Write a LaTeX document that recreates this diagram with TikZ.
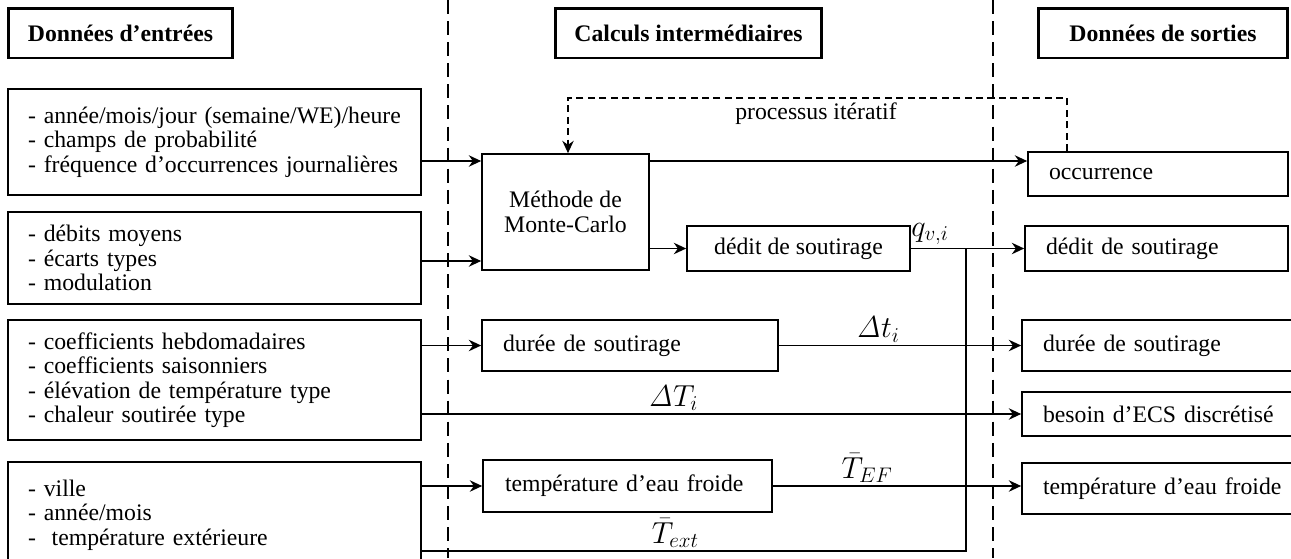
\documentclass[tikz,border=0pt]{standalone}
\usepackage[no-math]{fontspec}
\setmainfont{Liberation Serif}
\usetikzlibrary{positioning, arrows.meta, calc}

\tikzset{
    headbox/.style={draw, line width=1.7pt, minimum height=1cm, font=\fontsize{13.5}{14}\selectfont\bfseries},
    inbox/.style={draw, line width=1pt, align=left, inner xsep=0.4cm, text width=7.46cm, font=\fontsize{13.5}{13.9}\selectfont},
    midbox/.style={draw, line width=1pt, font=\fontsize{13.5}{13.9}\selectfont},
    outbox/.style={draw, line width=1pt, align=left, inner xsep=0.42cm, font=\fontsize{13.5}{13.9}\selectfont},
    lbl/.style={font=\fontsize{17}{20}\selectfont, inner sep=1.5pt},
    wire/.style={line width=0.9pt},
    arr/.style={wire, -{Stealth[length=7pt, width=6.5pt]}},
    sepline/.style={line width=0.8pt, dash pattern=on 8pt off 4pt},
    fbk/.style={line width=0.9pt, dash pattern=on 4pt off 2.5pt, -{Stealth[length=7pt, width=6.5pt]}}
}

\begin{document}
\begin{tikzpicture}[x=0.02cm, y=-0.02cm]
    \useasboundingbox (0,0) rectangle (1291,558);
    \clip (0,0) rectangle (1291,558);

    % Column separators
    \draw[sepline] (448,0) -- (448,558);
    \draw[sepline] (993,0) -- (993,558);

    % Column titles
    \node[headbox, minimum width=4.5cm] (hin) at (120.5,33) {Données d’entrées};
    \node[headbox, minimum width=5.34cm] (hcalc) at (688.5,33) {Calculs intermédiaires};
    \node[headbox, minimum width=5cm] (hout) at (1163,33) {Données de sorties};

    % Input data
    \node[inbox, minimum height=2.12cm] (in1) at (214.5,142)
        {- année/mois/jour (semaine/WE)/heure\\- champs de probabilité\\- fréquence d’occurrences journalières};
    \node[inbox, minimum height=1.84cm] (in2) at (214.5,258)
        {- débits moyens\\- écarts types\\- modulation};
    \node[inbox, minimum height=2.4cm] (in3) at (214.5,380)
        {- coefficients hebdomadaires\\- coefficients saisonniers\\- élévation de température type\\- chaleur soutirée type};
    \node[inbox, minimum height=2.12cm] (in4) at (214.5,515)
        {- ville\\- année/mois\\-\ \ température extérieure};

    % Intermediate calculations
    \node[midbox, align=center, minimum width=3.34cm, minimum height=2.32cm] (mc) at (565.5,212) {Méthode de\\Monte-Carlo};
    \node[midbox, minimum width=4.46cm, minimum height=0.9cm] (deb) at (798.5,248.5) {dédit de soutirage};
    \node[midbox, align=left, inner xsep=0.42cm, text width=5.08cm, minimum height=1.02cm] (dur) at (630,345.5) {durée de soutirage};
    \node[midbox, align=left, inner xsep=0.44cm, text width=4.9cm, minimum height=1.04cm] (tef) at (627.5,486) {température d’eau froide};

    % Outputs
    \node[outbox, text width=4.36cm, minimum height=0.88cm] (occ) at (1158,174) {occurrence};
    \node[outbox, text width=4.42cm, minimum height=0.9cm] (out2) at (1156.5,248.5) {dédit de soutirage};
    \node[outbox, text width=4.9cm, minimum height=1.02cm] (out3) at (1165.5,345.5) {durée de soutirage};
    \node[outbox, text width=4.9cm, minimum height=0.88cm] (out4) at (1165.5,414) {besoin d’ECS discrétisé};
    \node[outbox, text width=4.9cm, minimum height=1.02cm] (out5) at (1165.5,488.5) {température d’eau froide};

    % Iterative loop
    \draw[fbk] (occ.north -| 1067,0) -- (1067,98) -| (mc.north -| 568,0);
    \node[font=\fontsize{13.5}{13.9}\selectfont] (fbl) at (816,114) {processus itératif};

    % Connections
    \draw[arr] (in1.east |- 0,161) -- (mc.west |- 0,161);
    \draw[arr] (in2.east |- 0,261) -- (mc.west |- 0,261);
    \draw[arr] (mc.east |- 0,161) -- (occ.west |- 0,161);
    \draw[arr] (mc.east |- deb.west) -- (deb.west);
    \draw[arr] (deb.east) -- (out2.west) node[lbl, pos=0.17, above] {$q_{v,i}$};
    \coordinate (qj) at (966,248.5);
    \draw[wire] (in4.east |- 0,551) -| (qj) node[lbl, pos=0.233, above] {$\bar{T}_{ext}$};

    \draw[arr] (in3.east |- dur.west) -- (dur.west);
    \draw[arr] (dur.east) -- (out3.west) node[lbl, pos=0.41, above] {$\mathit{\Delta} t_i$};
    \draw[arr] (in3.east |- out4.west) -- (out4.west) node[lbl, pos=0.42, above] {$\mathit{\Delta} T_i$};

    \draw[arr] (in4.east |- tef.west) -- (tef.west);
    \draw[arr] (tef.east) -- (out5.west |- tef.east) node[lbl, pos=0.38, above] {$\bar{T}_{EF}$};
\end{tikzpicture}
\end{document}
